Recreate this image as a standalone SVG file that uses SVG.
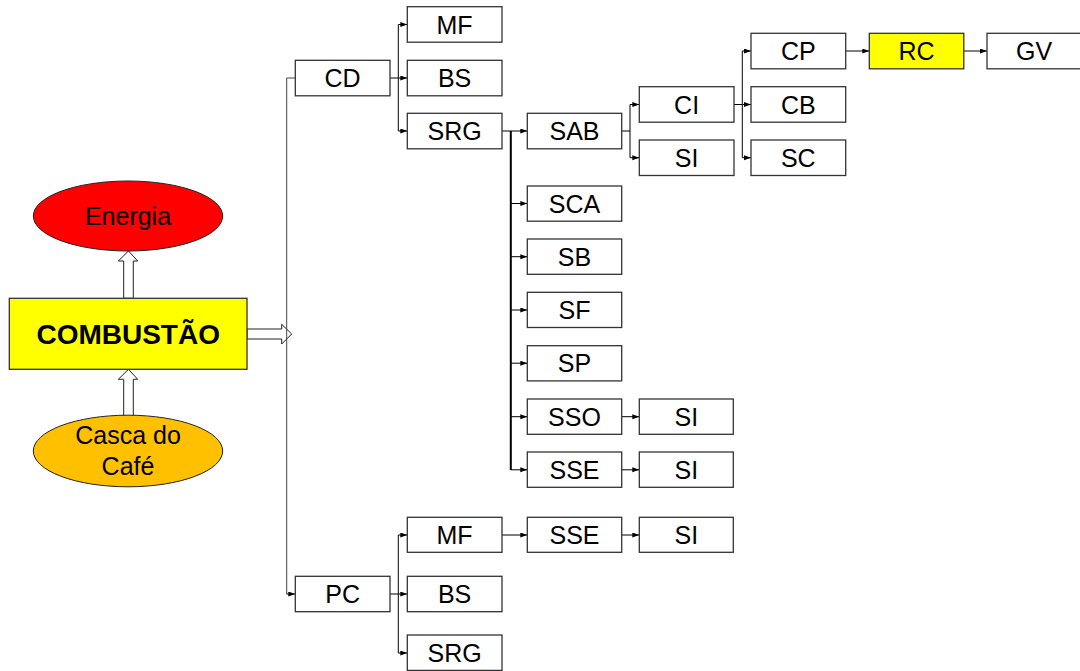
<svg xmlns="http://www.w3.org/2000/svg" width="1080" height="671" viewBox="0 0 1080 671">
<style>
.box{fill:#fff;stroke:#333;stroke-width:1.3}
.yel{fill:#ffff00;stroke:#333;stroke-width:1.3}
.t{font-family:"Liberation Sans",Arial,sans-serif;font-size:25px;fill:#000;text-anchor:middle}
.tb{font-family:"Liberation Sans",Arial,sans-serif;font-size:28px;font-weight:bold;fill:#000;text-anchor:middle}
.ln{fill:none;stroke:#000;stroke-width:1}
.arr{fill:none;stroke:#000;stroke-width:1;marker-end:url(#ah)}
.hol{fill:#fff;stroke:#222;stroke-width:1}
</style>
<defs>
<marker id="ah" markerUnits="userSpaceOnUse" markerWidth="8" markerHeight="6" refX="7" refY="2.5" orient="auto">
<path d="M0,0 L7,2.5 L0,5 z" fill="#000"/>
</marker>
</defs>
<rect width="1080" height="671" fill="#fff"/>
<g id="connectors">
<polygon class="hol" points="128.5,251 137.7,261 133.3,261 133.3,298.3 123.7,298.3 123.7,261 118.3,261"/>
<polygon class="hol" points="128.5,369.3 137.7,379.3 133.3,379.3 133.3,418 123.7,418 123.7,379.3 118.3,379.3"/>
<polygon class="hol" points="247,329 281.7,329 281.7,324.3 291.7,334 281.7,344 281.7,339 247,339"/>
<path class="ln" d="M295.3,78 H286.7 V594" style="stroke:#444"/>
<path class="arr" d="M286.7,594 H295.3"/>
<path class="ln" d="M390,78 H398.3 M398.3,24.5 V131"/>
<path class="arr" d="M398.3,24.5 H407.3"/>
<path class="arr" d="M398.3,78 H407.3"/>
<path class="arr" d="M398.3,131 H407.3"/>
<path class="arr" d="M502,131 H527.3"/>
<path class="ln" d="M510.8,131 V470" style="stroke-width:2"/>
<path class="arr" d="M510.8,203.5 H527.3"/>
<path class="arr" d="M510.8,256.7 H527.3"/>
<path class="arr" d="M510.8,310 H527.3"/>
<path class="arr" d="M510.8,363.2 H527.3"/>
<path class="arr" d="M510.8,416.7 H527.3"/>
<path class="arr" d="M510.8,469.8 H527.3"/>
<path class="ln" d="M621.7,131 H630 M630,104.5 V157.7"/>
<path class="arr" d="M630,104.5 H639.3"/>
<path class="arr" d="M630,157.7 H639.3"/>
<path class="ln" d="M734,104.5 H742.3 M742.3,51 V157.7"/>
<path class="arr" d="M742.3,51 H751"/>
<path class="arr" d="M742.3,104.5 H751"/>
<path class="arr" d="M742.3,157.7 H751"/>
<path class="arr" d="M845.7,51 H869.3"/>
<path class="arr" d="M963.8,51 H987"/>
<path class="arr" d="M621.7,416.7 H639.3"/>
<path class="arr" d="M621.7,469.8 H639.3"/>
<path class="ln" d="M390,594 H398.3 M398.3,535 V653"/>
<path class="arr" d="M398.3,535 H407.3"/>
<path class="arr" d="M398.3,594 H407.3"/>
<path class="arr" d="M398.3,653 H407.3"/>
<path class="arr" d="M502,535 H527.3"/>
<path class="arr" d="M621.7,535 H639.3"/>
</g>
<g id="energia"><ellipse cx="128" cy="216" rx="94.7" ry="35" fill="#ff0000" stroke="#222" stroke-width="1"/><text class="t" x="128" y="225">Energia</text></g>
<g id="combustao"><rect class="yel" x="9.3" y="298.3" width="237.7" height="71"/><text class="tb" x="128.2" y="343.5">COMBUSTÃO</text></g>
<g id="casca"><ellipse cx="128" cy="451" rx="94.7" ry="35.8" fill="#ffc000" stroke="#222" stroke-width="1"/><text class="t" x="128" y="443.5">Casca do</text><text class="t" x="128" y="475">Café</text></g>
<g id="cd"><rect class="box" x="295.3" y="60.3" width="94.7" height="35.5"/><text class="t" x="342.6" y="87">CD</text></g>
<g id="mf1"><rect class="box" x="407.3" y="6.7" width="94.7" height="35.5"/><text class="t" x="454.6" y="33.5">MF</text></g>
<g id="bs1"><rect class="box" x="407.3" y="60.3" width="94.7" height="35.5"/><text class="t" x="454.6" y="87">BS</text></g>
<g id="srg1"><rect class="box" x="407.3" y="113.3" width="94.7" height="35.5"/><text class="t" x="454.6" y="140">SRG</text></g>
<g id="sab"><rect class="box" x="527.3" y="113.3" width="94.4" height="35.5"/><text class="t" x="574.5" y="140">SAB</text></g>
<g id="ci"><rect class="box" x="639.3" y="86.7" width="94.7" height="35.5"/><text class="t" x="686.6" y="113.5">CI</text></g>
<g id="si1"><rect class="box" x="639.3" y="140" width="94.7" height="35.5"/><text class="t" x="686.6" y="166.7">SI</text></g>
<g id="cp"><rect class="box" x="751" y="33.3" width="94.7" height="35.5"/><text class="t" x="798.3" y="60">CP</text></g>
<g id="cb"><rect class="box" x="751" y="86.7" width="94.7" height="35.5"/><text class="t" x="798.3" y="113.5">CB</text></g>
<g id="sc"><rect class="box" x="751" y="140" width="94.7" height="35.5"/><text class="t" x="798.3" y="166.7">SC</text></g>
<g id="rc"><rect class="yel" x="869.3" y="33.3" width="94.5" height="35.5"/><text class="t" x="916.5" y="60">RC</text></g>
<g id="gv"><rect class="box" x="987" y="33.3" width="95" height="35.5"/><text class="t" x="1034" y="60">GV</text></g>
<g id="sca"><rect class="box" x="527.3" y="186" width="94.4" height="35.2"/><text class="t" x="574.5" y="212.5">SCA</text></g>
<g id="sb"><rect class="box" x="527.3" y="239" width="94.4" height="35.3"/><text class="t" x="574.5" y="265.7">SB</text></g>
<g id="sf"><rect class="box" x="527.3" y="292.3" width="94.4" height="35.2"/><text class="t" x="574.5" y="319">SF</text></g>
<g id="sp"><rect class="box" x="527.3" y="345.7" width="94.4" height="35.2"/><text class="t" x="574.5" y="372.3">SP</text></g>
<g id="sso"><rect class="box" x="527.3" y="399" width="94.4" height="35.3"/><text class="t" x="574.5" y="425.7">SSO</text></g>
<g id="si2"><rect class="box" x="639.3" y="399" width="94" height="35.3"/><text class="t" x="686.3" y="425.7">SI</text></g>
<g id="sse1"><rect class="box" x="527.3" y="452" width="94.4" height="35.3"/><text class="t" x="574.5" y="478.7">SSE</text></g>
<g id="si3"><rect class="box" x="639.3" y="452" width="94" height="35.3"/><text class="t" x="686.3" y="478.7">SI</text></g>
<g id="pc"><rect class="box" x="295.3" y="576.3" width="94.7" height="35.4"/><text class="t" x="342.6" y="603">PC</text></g>
<g id="mf2"><rect class="box" x="407.3" y="517.3" width="94.7" height="35"/><text class="t" x="454.6" y="544">MF</text></g>
<g id="sse2"><rect class="box" x="527.3" y="517.3" width="94.4" height="35"/><text class="t" x="574.5" y="544">SSE</text></g>
<g id="si4"><rect class="box" x="639.3" y="517.3" width="94" height="35"/><text class="t" x="686.3" y="544">SI</text></g>
<g id="bs2"><rect class="box" x="407.3" y="576.3" width="94.7" height="35.4"/><text class="t" x="454.6" y="603">BS</text></g>
<g id="srg2"><rect class="box" x="407.3" y="635" width="94.7" height="35.4"/><text class="t" x="454.6" y="661.7">SRG</text></g>
</svg>
